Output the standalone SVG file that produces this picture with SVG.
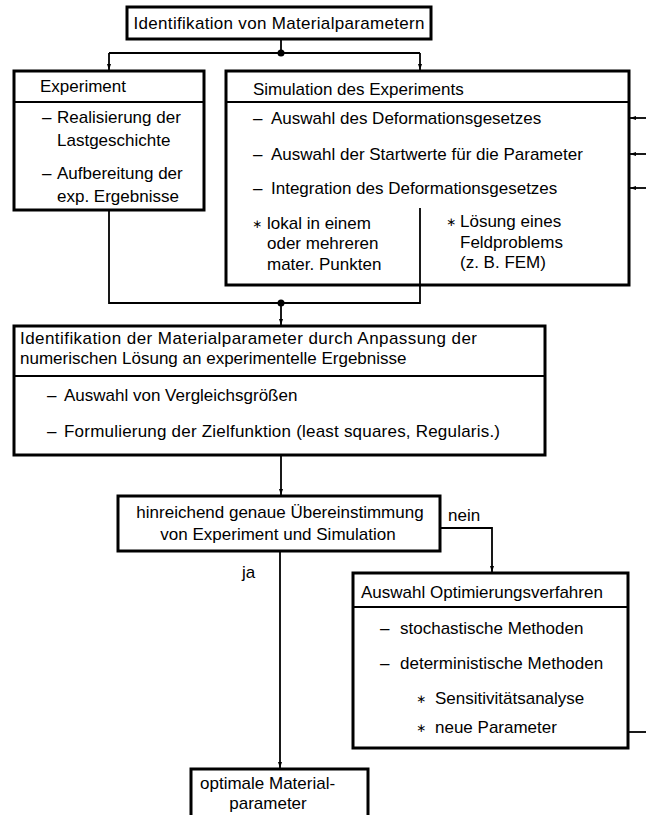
<svg xmlns="http://www.w3.org/2000/svg" width="646" height="815" viewBox="0 0 646 815">
<defs>
<style>
text{font-family:"Liberation Sans",Arial,sans-serif;font-size:17px;fill:#000}
.s{font-family:"DejaVu Sans",sans-serif;font-size:12px}
.box{fill:#fff;stroke:#000;stroke-width:3}
.div{stroke:#000;stroke-width:1.8;fill:none}
.c{stroke:#000;stroke-width:1.8;fill:none}
.m{text-anchor:middle}
</style>
<marker id="ah" viewBox="0 0 6 6" refX="6" refY="3" markerWidth="6" markerHeight="6" markerUnits="userSpaceOnUse" orient="auto">
<path d="M0,1 L6,3 L0,5 z" fill="#000"/>
</marker>
</defs>
<rect width="646" height="815" fill="#fff"/>
<g id="connectors">
<path class="c" d="M281,39 V53"/>
<path class="c" d="M109,53 H420"/>
<path class="c" d="M109,53 V70" marker-end="url(#ah)"/>
<path class="c" d="M420,53 V70" marker-end="url(#ah)"/>
<circle cx="281" cy="53" r="3.5" fill="#000"/>
<path class="c" d="M109,210 V303 H420 V208"/>
<circle cx="281" cy="303" r="3.5" fill="#000"/>
<path class="c" d="M281,303 V325" marker-end="url(#ah)"/>
<path class="c" d="M281,455 V495" marker-end="url(#ah)"/>
<path class="c" d="M440,528 H492 V572" marker-end="url(#ah)"/>
<path class="c" d="M280,551 V768" marker-end="url(#ah)"/>
<path class="c" d="M628,732 H646"/>
<path class="c" d="M646,118 H630" marker-end="url(#ah)"/>
<path class="c" d="M646,154 H630" marker-end="url(#ah)"/>
<path class="c" d="M646,188 H630" marker-end="url(#ah)"/>
<text x="448" y="521">nein</text>
<text x="242" y="578">ja</text>
</g>
<g id="top">
<rect class="box" x="127" y="7" width="304" height="32"/>
<text x="279" y="29" class="m" textLength="291" lengthAdjust="spacing">Identifikation von Materialparametern</text>
</g>
<g id="experiment">
<rect class="box" x="14" y="71" width="190" height="139"/>
<path class="div" d="M14,102 H204"/>
<text x="40" y="92">Experiment</text>
<text x="42" y="123">–</text>
<text x="57" y="123">Realisierung der</text>
<text x="57" y="146">Lastgeschichte</text>
<text x="42" y="179">–</text>
<text x="57" y="179">Aufbereitung der</text>
<text x="57" y="202">exp. Ergebnisse</text>
</g>
<g id="simulation">
<rect class="box" x="226" y="71" width="403" height="214"/>
<path class="div" d="M226,102 H629"/>
<text x="253" y="95">Simulation des Experiments</text>
<text x="253" y="124">–</text>
<text x="271" y="124">Auswahl des Deformationsgesetzes</text>
<text x="253" y="160">–</text>
<text x="271" y="160">Auswahl der Startwerte für die Parameter</text>
<text x="253" y="194">–</text>
<text x="271" y="194">Integration des Deformationsgesetzes</text>
<text x="252" y="228" class="s">∗</text>
<text x="267" y="229">lokal in einem</text>
<text x="267" y="249">oder mehreren</text>
<text x="267" y="270">mater. Punkten</text>
<text x="446" y="226" class="s">∗</text>
<text x="460" y="227">Lösung eines</text>
<text x="460" y="248">Feldproblems</text>
<text x="460" y="268">(z. B. FEM)</text>
<path class="c" d="M420,208 V285"/>
</g>
<g id="identifikation">
<rect class="box" x="14" y="326" width="531" height="129"/>
<path class="div" d="M14,376 H545"/>
<text x="20" y="344" textLength="457" lengthAdjust="spacing">Identifikation der Materialparameter durch Anpassung der</text>
<text x="20" y="364">numerischen Lösung an experimentelle Ergebnisse</text>
<text x="47" y="401">–</text>
<text x="64" y="401">Auswahl von Vergleichsgrößen</text>
<text x="47" y="437">–</text>
<text x="64" y="437" textLength="436" lengthAdjust="spacing">Formulierung der Zielfunktion (least squares, Regularis.)</text>
</g>
<g id="uebereinstimmung">
<rect class="box" x="118" y="496" width="322" height="55"/>
<text x="280" y="518" class="m">hinreichend genaue Übereinstimmung</text>
<text x="278" y="540" class="m">von Experiment und Simulation</text>
</g>
<g id="optimierung">
<rect class="box" x="353" y="573" width="275" height="175"/>
<path class="div" d="M353,607 H628"/>
<text x="361" y="598">Auswahl Optimierungsverfahren</text>
<text x="380" y="634">–</text>
<text x="400" y="634">stochastische Methoden</text>
<text x="380" y="669">–</text>
<text x="400" y="669">deterministische Methoden</text>
<text x="416" y="703" class="s">∗</text>
<text x="435" y="704">Sensitivitätsanalyse</text>
<text x="416" y="732" class="s">∗</text>
<text x="435" y="733">neue Parameter</text>
</g>
<g id="ergebnis">
<path class="box" d="M191,818 V769 H368 V818"/>
<text x="200" y="789">optimale Material-</text>
<text x="268" y="809" class="m">parameter</text>
</g>
</svg>
